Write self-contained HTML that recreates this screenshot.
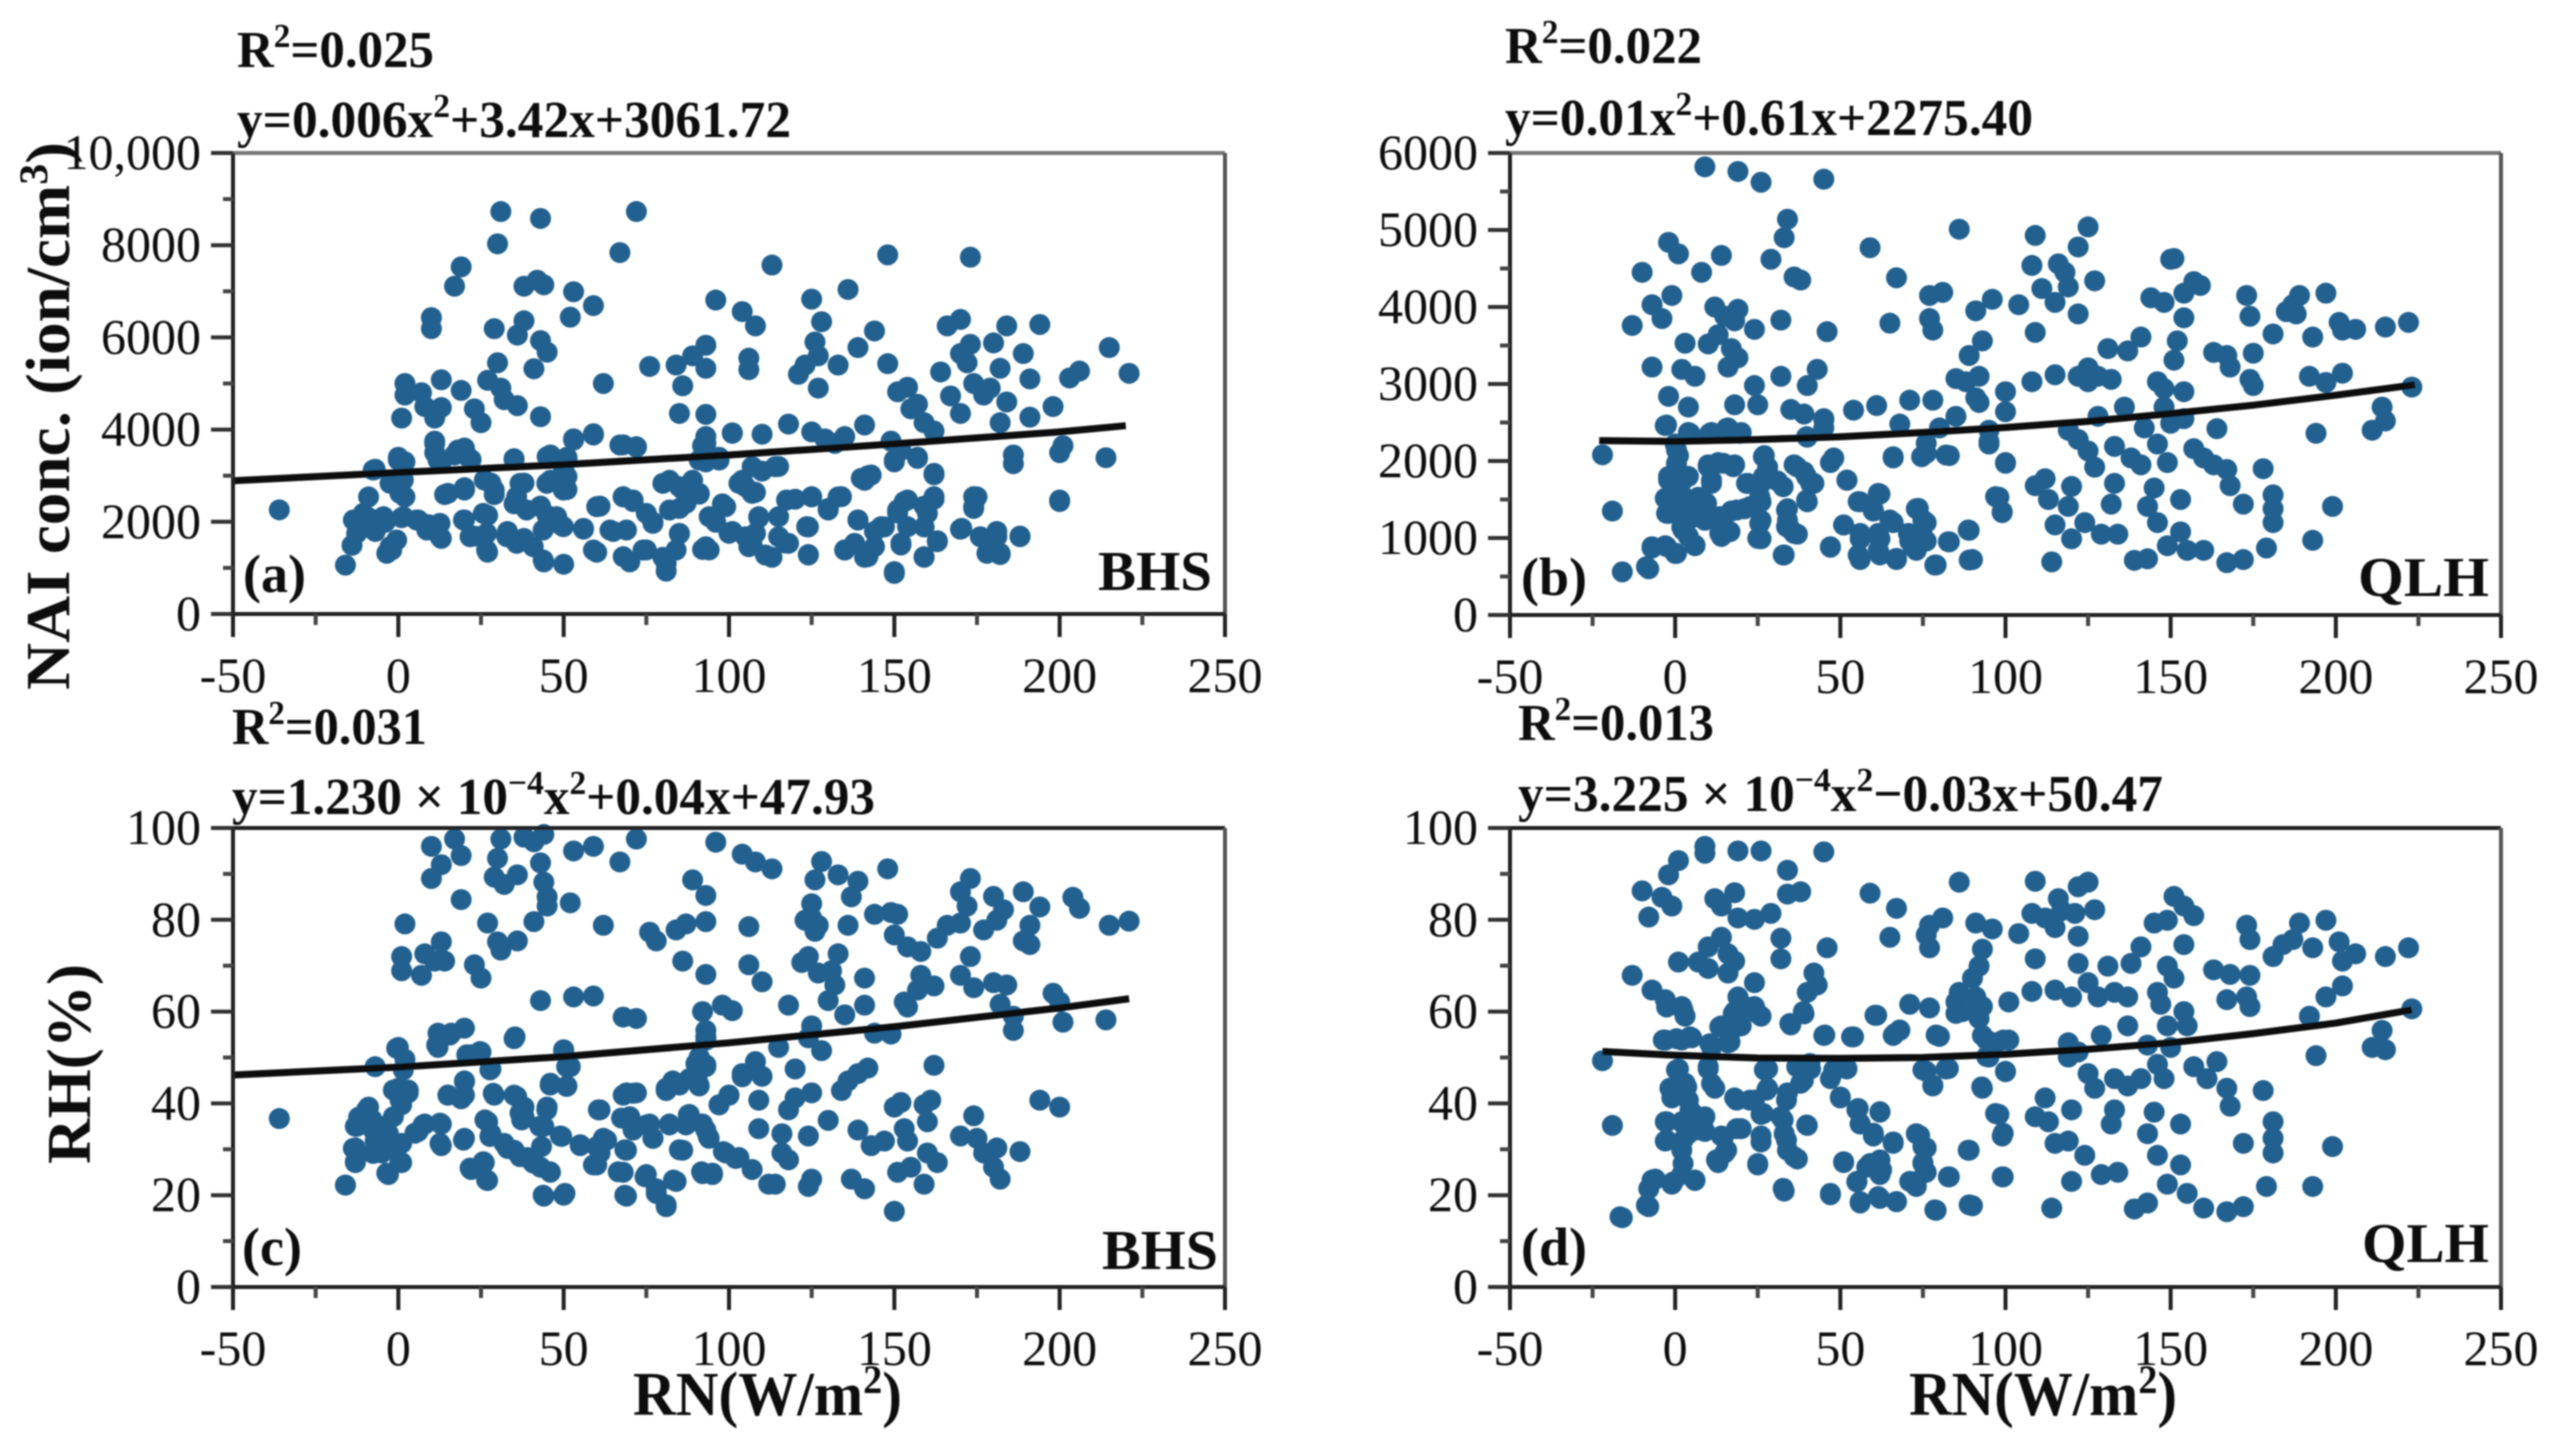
<!DOCTYPE html>
<html lang="en">
<head>
<meta charset="utf-8">
<title>NAI and RH versus net radiation</title>
<style>
html,body{margin:0;padding:0;background:#fff}
svg{display:block}
text{font-family:"Liberation Serif","DejaVu Serif",serif;fill:#111}
.b{font-weight:bold}
</style>
</head>
<body>
<svg id="fig" xmlns="http://www.w3.org/2000/svg" width="2561" height="1451" viewBox="0 0 2561 1451">
<defs><filter id="soft" x="-2%" y="-2%" width="104%" height="104%"><feGaussianBlur stdDeviation="0.8"/></filter></defs>
<rect width="2561" height="1451" fill="#fff"/>
<g id="root" filter="url(#soft)">
<text class="b" x="237" y="67" font-size="52" textLength="197" lengthAdjust="spacingAndGlyphs">R<tspan dy="-20" font-size="34">2</tspan><tspan dy="20">=0.025</tspan></text>
<text class="b" x="237" y="137" font-size="52" textLength="554" lengthAdjust="spacingAndGlyphs">y=0.006x<tspan dy="-20" font-size="34">2</tspan><tspan dy="20">+3.42x+3061.72</tspan></text>
<text class="b" x="1505" y="63" font-size="52" textLength="197" lengthAdjust="spacingAndGlyphs">R<tspan dy="-20" font-size="34">2</tspan><tspan dy="20">=0.022</tspan></text>
<text class="b" x="1505" y="135" font-size="52" textLength="528" lengthAdjust="spacingAndGlyphs">y=0.01x<tspan dy="-20" font-size="34">2</tspan><tspan dy="20">+0.61x+2275.40</tspan></text>
<text class="b" x="232" y="744" font-size="52" textLength="195" lengthAdjust="spacingAndGlyphs">R<tspan dy="-20" font-size="34">2</tspan><tspan dy="20">=0.031</tspan></text>
<text class="b" x="232" y="814" font-size="52" textLength="643" lengthAdjust="spacingAndGlyphs">y=1.230 × 10<tspan dy="-20" font-size="34">−4</tspan><tspan dy="20">x</tspan><tspan dy="-20" font-size="34">2</tspan><tspan dy="20">+0.04x+47.93</tspan></text>
<text class="b" x="1518" y="740" font-size="52" textLength="196" lengthAdjust="spacingAndGlyphs">R<tspan dy="-20" font-size="34">2</tspan><tspan dy="20">=0.013</tspan></text>
<text class="b" x="1518" y="811" font-size="52" textLength="645" lengthAdjust="spacingAndGlyphs">y=3.225 × 10<tspan dy="-20" font-size="34">−4</tspan><tspan dy="20">x</tspan><tspan dy="-20" font-size="34">2</tspan><tspan dy="20">−0.03x+50.47</tspan></text>
<text class="b" transform="translate(69,690) rotate(-90)" font-size="62" textLength="548" lengthAdjust="spacingAndGlyphs">NAI conc. (ion/cm<tspan dy="-22" font-size="40">3</tspan><tspan dy="22">)</tspan></text>
<text class="b" transform="translate(90,1164) rotate(-90)" font-size="62" textLength="200" lengthAdjust="spacingAndGlyphs">RH(%)</text>
<text class="b" x="633" y="1415" font-size="62" textLength="269" lengthAdjust="spacingAndGlyphs">RN(W/m<tspan dy="-22" font-size="40">2</tspan><tspan dy="22">)</tspan></text>
<text class="b" x="1909" y="1415" font-size="62" textLength="268" lengthAdjust="spacingAndGlyphs">RN(W/m<tspan dy="-22" font-size="40">2</tspan><tspan dy="22">)</tspan></text>
<text class="b" x="243" y="592" font-size="54">(a)</text>
<text class="b" x="1098" y="590" font-size="56" textLength="114" lengthAdjust="spacingAndGlyphs">BHS</text>
<text class="b" x="1521" y="595" font-size="54">(b)</text>
<text class="b" x="2358" y="596" font-size="56" textLength="131" lengthAdjust="spacingAndGlyphs">QLH</text>
<text class="b" x="242" y="1265" font-size="54">(c)</text>
<text class="b" x="1102" y="1269" font-size="56" textLength="116" lengthAdjust="spacingAndGlyphs">BHS</text>
<text class="b" x="1521" y="1265" font-size="54">(d)</text>
<text class="b" x="2362" y="1262" font-size="56" textLength="127" lengthAdjust="spacingAndGlyphs">QLH</text>
</g>
</svg>
<script>
// shared x-axis ticks
const xTickValues = [-50, 0, 50, 100, 150, 200, 250];
const xTickLabels = ['-50', '0', '50', '100', '150', '200', '250'];

// y-axis ticks
const naiTicksA = [0, 2000, 4000, 6000, 8000, 10000];
const naiLabelsA = ['0', '2000', '4000', '6000', '8000', '10,000'];
const naiTicksB = [0, 1000, 2000, 3000, 4000, 5000, 6000];
const naiLabelsB = ['0', '1000', '2000', '3000', '4000', '5000', '6000'];
const rhTicks = [0, 20, 40, 60, 80, 100];
const rhLabels = ['0', '20', '40', '60', '80', '100'];

// (a) BHS NAI
const xA = [31,43,72,30,67,19,17,113,148,173,38,42,44,53,59,136,96,125,104,108,52,10,10,29,38,36,43,45,128,144,166,170,184,194,180,173,170,189,215,221,206,203,191,182,172,148,139,133,126,127,123,121,127,93,89,84,93,86,76,106,106,62,41,30,27,31,32,36,43,13,19,2,2,7,8,1,11,13,23,25,85,93,151,154,155,157,167,170,177,179,184,182,191,198,164,174,159,162,141,118,101,110,59,53,125,129,135,132,93,92,68,72,149,201,200,186,186,214,11,11,13,17,20,22,0,2,-7,35,46,51,50,97,93,152,157,150,162,115,110,104,108,142,141,82,89,86,91,1,2,38,46,51,28,29,14,20,68,71,61,35,43,-9,-36,98,85,120,125,133,130,153,162,159,151,175,174,200,-16,-14,-12,-9,-7,-4,-2,1,6,9,13,20,23,27,27,33,38,44,50,45,49,56,60,65,70,75,77,81,80,85,92,94,96,101,107,109,113,117,124,124,135,139,141,144,147,150,152,159,159,163,170,177,179,182,188,181];
const yA = [8730,8580,8730,8030,7840,7530,7110,7570,7790,7740,7110,7240,7140,6990,6690,7040,6810,6830,6560,6250,6440,6430,6190,6190,6360,6050,5930,5680,6340,6140,6250,6390,6250,6280,5880,5850,5650,5650,5780,5220,5270,5120,5100,5330,5450,5430,5780,5400,5900,5600,5400,5200,4900,5830,5600,5400,5330,4950,5370,5550,5300,5000,5320,5450,5070,4900,4650,4520,4280,5080,4850,5000,4750,4800,4500,4250,4250,4480,4450,4150,4350,4330,4820,4920,4450,4550,4730,4350,4750,4900,4600,4150,4270,4500,5250,5000,4150,3970,4100,4120,3930,3900,3910,3800,3950,3800,3850,3700,3850,3650,3670,3620,3750,3650,3500,3450,3260,3390,3750,3500,3300,3450,3600,3350,3400,3300,3140,3370,3450,3400,3140,3400,3300,3550,3400,3300,3020,3200,3100,2900,2640,3000,2900,2900,2900,2700,2600,2900,2540,2840,2900,2700,2840,2590,2590,2740,2540,2440,2340,2390,2340,2540,2260,2390,2290,2490,2540,2540,2290,2440,2490,2340,2190,2540,2290,2440,1060,1490,1990,2090,1790,1990,1390,2090,2040,1940,1640,2040,1690,1340,2140,1790,1640,1130,1080,2140,1940,1840,1340,1790,1130,1390,1990,930,1230,1740,1400,1390,1990,1790,1490,2090,1230,1540,1890,1290,1390,2040,1230,1790,1890,880,1540,1890,1230,1590,1840,1640,1440,1290,1690,1790];
const xADense = [-13.6,-10.6,-12.6,-7.6,-4.5,-2.5,-0.5,1.5,-3.5,0.5,-2.5,1.5,5.5,8.6,12.6,12.6,19.7,21.7,25.7,26.7,26.7,32.8,35.8,40.8,43.8,43.8,42.8,47.9,49.9,35.8,38.8,36.8,44.9,49.9,56,60,59,64,68,71,69,68,75,77,74,81,84,85,82,87,91,85,80,93,94,99,100,105,105,29,26,15,20,11,12,18,21,0,-7.6,35,45,51,51,53,59,67,72,93,91,97,101,107,103,107,114,109,108,106,111,117.4,115,115,118,125,130,134,123.5,124,135,139,138,142,146,144,140,143,151,154,162,160,154,152,163,159,150,150,157,162,174,174,170.4,176,178,182,181,188,200];
const yADense = [2039,2183,1750,1894,2111,1460,1605,2111,1316,2617,2834,2906,2039,1822,1677,1967,2039,1677,2183,1750,1388,1677,1533,1460,1171,1822,2328,2111,1894,2545,2256,2834,2834,2690,1858,2328,1388,1822,2545,2473,1822,1244,2183,1967,1388,1099,1388,1750,2256,2400,2617,2762,2834,1460,2111,2328,1750,1677,2762,2690,2906,2617,2690,3702,3340,3557,3413,3340,3123,3340,3413,3340,2979,3774,3883,3666,3630,3702,3340,3340,3919,3196,2834,2617,3196,2111,1750,1460,1280,2473,2111,1677,1533,2545,2256,2545,1894,1280,1388,2039,1533,1244,1894,1460,2943,3015,2256,2473,2545,2183,1894,1497,1569,1244,918,3340,3376,3051,2545,2328,1858,1677,1316,1316,1677,1677,2473];

// (b) QLH NAI
const xB = [9,19,26,45,34,33,-2,1,14,29,-10,8,36,38,59,67,86,109,125,122,108,116,118,127,111,119,115,122,150,151,157,159,154,144,148,154,173,174,189,187,185,188,197,181,193,201,202,206,215,222,77,81,96,91,104,77,78,65,46,32,24,12,19,15,18,-1,-7,-4,-13,3,10,13,17,19,16,-7,2,6,32,43,40,24,-2,4,18,25,35,39,45,54,61,71,78,68,-3,4,11,16,20,40,45,80,85,89,93,85,92,88,91,92,100,100,108,109,115,122,125,128,125,132,131,137,141,152,151,146,148,154,163,167,168,175,174,175,192,197,202,223,214,215,211,194,164,128,136,148,150,154,95,95,119,122,125,127,133,138,141,142,146,149,157,160,163,167,168,178,100,83,76,66,48,47,-22,-19,-16,-8,-7,-3,0,6,0,1,-2,2,4,-2,2,7,-2,2,5,9,9,2,4,10,11,18,13,27,28,22,26,31,36,39,41,40,52,56,62,17,21,26,34,34,26,26,35,37,14,16,33,47,51,56,56,60,66,62,62,67,73,76,71,76,73,79,83,89,90,98,99,109,112,113,115,114,120,119,120,124,129,133,132,134,139,143,145,143,146,149,153,153,155,160,167,172,172,179,181,181,181,193,199];
const yB = [5820,5760,5620,5660,5140,4900,4840,4690,4670,4620,4450,4450,4390,4350,4770,4380,5010,4930,5040,4780,4540,4560,4450,4340,4240,4260,4060,3910,4620,4630,4330,4280,4180,4120,4060,3860,4150,3880,4150,4030,3940,3910,4180,3650,3610,3800,3700,3710,3740,3800,4150,4190,4100,3950,4030,3850,3700,3790,3680,3830,3710,4000,3970,3880,3820,4150,4030,3850,3760,3530,3520,3640,3460,3340,3220,3220,3190,3100,3100,3190,2980,2980,2840,2700,2730,2730,2670,2610,2550,2660,2720,2790,2790,2480,2460,2370,2370,2430,2370,2310,2430,2430,2580,3370,3560,3070,3100,3030,2820,2760,2900,2640,3030,3670,3120,3100,3210,3100,3030,3060,3460,3430,3610,3560,3310,3030,2940,2900,3410,3370,3220,3400,3060,2980,3100,3020,3140,2960,2700,2520,2400,2360,2420,2580,2700,2700,2490,2550,2400,2220,2400,2280,2130,1920,2190,2040,1950,2430,2220,1980,2160,2040,1950,1890,1680,1900,1980,2070,2100,2040,2040,1980,2080,1350,560,600,870,900,800,900,2220,2070,1800,1800,1800,1530,1560,1530,1320,1350,1260,1470,1230,1140,1020,1950,1710,1950,1980,2070,1920,1710,1710,1740,1950,1860,1710,1470,1750,1470,1570,1350,1380,1470,1380,1230,1230,990,1110,1050,1020,1080,780,880,1170,990,720,1350,1200,990,780,720,1380,1200,960,960,840,650,950,1100,720,1530,1330,1680,1770,1500,1170,690,1670,1410,990,1200,1050,1710,1440,1050,710,730,1650,1410,1200,900,1500,1080,840,840,680,720,1440,870,1560,1380,1200,970,1410];
const xBDense = [0.4,0.4,-2,2.4,-3,1.4,-2.6,3.5,6.5,9.5,7.5,2.4,6,0.4,-2.6,-7,-8.7,10,14.6,17.6,11,21.6,26.7,26.7,25.6,32.7,36.8,39.8,42,39.8,13.5,18.6,22.6,13.5,16.6,25.6,25,33.7,33.7,36,32.7,48,52,55.4,61.5,60,51,47,56,55.4,61.5,61.5,65,67,73.6,75,70.6,75,72,82.7,88.7,89,78.6,66,74.6,82,76,97,99,100,95,39.8,45,10.5,15.6,19.6,4.5,-2.6];
const yBDense = [2143,1970,1753,1753,1515,1537,1320,1363,1493,1450,1277,1104,909,800,887,887,627,1926,1970,1926,1753,1710,2056,1796,1537,1666,1926,1796,1710,1493,1277,1363,1407,1060,1082,1190,995,1363,1147,1060,779,2035,1753,1472,1580,1363,1169,887,1060,779,1060,844,1234,736,1385,1234,1060,1017,887,952,1104,714,649,2056,2056,2078,2230,1537,1342,1970,2251,2316,2532,2359,2424,2359,2359,2467];

// (c) BHS RH
const xC = [10,17,19,13,10,31,30,38,41,44,43,36,29,32,44,45,45,52,53,59,67,72,96,104,108,113,128,126,133,139,137,148,89,93,19,41,62,27,2,93,106,87,84,76,78,125,125,123,127,126,136,144,149,151,150,154,158,163,166,170,173,170,172,180,183,181,177,189,194,191,189,191,204,206,215,221,173,13,30,31,36,1,1,7,8,11,14,23,25,86,93,106,110,122,124,127,131,133,132,141,158,157,162,170,174,180,184,198,200,43,53,59,130,118,98,101,92,141,135,153,154,182,186,186,201,214,68,72,93,93,12,12,16,20,35,0,2,22,25,28,50,52,-7,125,124,115,128,144,149,91,91,93,108,104,110,120,162,142,139,136,134,20,20,15,0,3,1,29,35,38,45,46,51,38,69,72,61,81,83,88,91,100,97,109,120,118,125,130,152,150,161,159,160,174,194,200,-36,-9,-13,-12,-8,-5,-7,-3,-13,-13,-5,-3,1,1,6,8,13,13,20,27,28,32,35,39,43,46,44,49,44,50,-16,22,26,27,55,62,61,60,69,68,69,70,71,76,77,75,78,81,84,82,88,86,92,94,92,95,99,103,107,109,112,114,116,116,118,124,124,125,137,139,141,143,147,150,151,155,153,154,159,160,163,170,175,177,180,182,181,188];
const yC = [96,97.6,94,92,89,97.6,93.4,98,97,98.6,92.4,89.8,89.3,87.7,88.2,85,83,83.7,95,96,92.6,97.6,96.9,94.3,92.6,91.1,92.7,88.7,89.8,88.4,85,91.1,88.7,85.3,84.4,79.6,78.8,79.3,79.1,79.6,78.5,79.1,77.8,77.3,75.4,83.5,80.4,79.9,78.8,77.5,78.8,81.2,81.6,81.2,76.7,74.1,73.1,76,78.8,79.3,89,86.1,83,85.1,82.2,79.9,77.8,86.1,82.8,78.8,75.4,74.6,84.9,82.5,78.8,79.7,72,75.2,75.2,73.4,75.4,72,68.9,67.9,72.6,71,71,70.2,67.3,71,68.1,70.2,66.5,70.7,72,68.4,68.9,72.6,65.8,67.3,67.9,64.7,65.6,67.9,65.2,66.3,65.8,64,62.1,62.4,63.2,63.4,62.4,61.4,61.4,60.2,60,61.4,59.3,62.1,61,61.6,59,55.9,57.7,58.2,58.8,58.5,55.9,53.8,55.3,52.2,55.3,56.4,54.1,52.2,49.6,50.6,51.2,47.5,51.7,48,48,56.9,54.3,52.2,51.5,55.3,55.1,50.1,47.5,48,49.1,46.5,45.9,47.5,48.3,47.7,46.5,44.9,42.8,44.9,41.8,41.8,43.3,42.3,39.7,41.8,41.8,39.2,39.2,44.4,43.8,37.1,42.3,42.3,38.6,42.8,44.9,45.4,43.8,41.8,39.7,40.7,41.2,38.6,42.3,36.3,40.2,39.2,40.7,39.7,36,37.3,40.7,39.2,36.7,39.2,35,37,36.5,34.5,31.8,33.4,30.3,27.1,29.2,24.5,27.1,31.3,33.9,35.5,35.5,30.8,32.4,36,33.4,31.3,29.8,28.2,26.1,25,35,32.9,19.8,20,22.2,25.6,27.1,23.2,30.8,32.4,29.2,26.6,29.8,25,19.8,37.1,34.5,35.5,32.4,24.5,21.4,17.5,23,35.5,37.6,29.8,35.5,32.4,24.7,24.5,29.2,28.2,25.6,34.5,22.4,22.4,33.4,29.2,27.7,32.9,21.9,23.5,23.5,34.2,21.4,30.8,31.8,16.5,25,26.1,34.5,31.8,22.4,29.2,27.1,32.9,32.4,29.2,26.1,23.5,30.3,29.5];
const xCDense = [-16,-13,-13.6,-12.6,-9.6,-7.6,-4.5,-7.6,-3.5,0.5,-0.5,-1.5,0.5,-1.5,3,-0.5,1.5,5,7.5,12.6,12.6,19.7,15,19,20,26.2,27.7,33,36.8,40.8,45.9,21.7,25.7,26.7,28.7,27.7,35.8,36.8,37.3,44.9,42.8,43.3,49.4,43.8,50.4,45.9,50.9,50.9,55,60.5,60,63,59,66.5,68.5,68.5,68,71,67.5,71,75,77,82,87.7,87,93,93.7,85,74.6,78,81,83.2,91.7,95,98.3,102,97,100,81,85,90.7,90,93,93,104,20.7,24.7,11.6,15.6,35.3,50];
const yCDense = [22.2,27.3,30.2,35,38.6,34.2,35,29.1,24.8,27.3,30.6,37.1,40.8,42.9,42.9,52,47.3,33.5,35.3,35.7,31.3,32,41.8,41,44.7,36.4,32.8,30.2,28.4,27,25.1,25.9,27.3,23.3,42.2,47.3,41.5,37.9,36.4,38.6,35,30.6,32.8,20,20.4,44,43.7,48,31,38.6,30.6,32,26.6,25.1,29.9,20,41.8,42.2,36.8,34.2,35.3,32.4,35.3,37.5,35.3,34.2,32.8,29.9,24,20.4,17.9,23.3,25.1,24.8,29.5,28,39.7,41.8,43.3,44,44.4,48.7,48.4,54.5,45.8,50.6,51.3,52.7,54.9,54.5,51.3];

// (d) QLH RH
const xD = [9,9,19,26,45,34,1,-2,-10,-4,-1,-8,12,14,18,34,38,59,67,86,109,122,125,108,112,116,117,121,115,127,122,91,96,104,81,77,76,77,65,46,32,32,14,10,19,24,29,1,7,10,16,18,16,24,-13,-7,-3,2,3,19,24,26,18,20,14,39,35,40,43,42,61,71,77,68,66,80,45,54,-3,2,5,11,16,85,87,91,90,92,93,93,86,92,93,97,101,95,101,108,109,115,120,122,125,128,131,133,137,138,141,137,129,119,119,122,143,146,147,149,151,145,149,151,154,157,154,154,155,149,150,163,168,167,174,173,174,173,174,181,184,189,187,193,197,197,192,202,201,202,206,215,222,223,214,215,211,194,-22,-19,-16,-8,-8,-6,-1,2,6,1,-1,3,-1,4,-3,-3,2,5,4,9,2,9,10,12,18,24,28,28,26,34,38,38,41,49,52,47,40,32,20,14,26,33,34,37,15,13,25,33,47,50,55,56,62,60,66,51,55,58,62,62,62,56,67,73,76,75,76,71,73,79,83,89,90,76,82,78,93,100,98,99,99,109,112,113,115,119,120,124,120,114,125,127,133,133,132,129,134,137,141,146,148,145,143,146,149,153,153,155,160,139,143,157,161,164,167,168,167,172,172,178,181,181,181,179,193,199];
const yD = [94.5,96,95,95,94.8,90.8,92.9,89.8,86.3,84.9,83,80.6,84.6,83,85.9,85.6,86.1,85.8,82.5,88.2,88.4,87.2,88.2,81.4,80.4,84.6,82,81.4,78.3,82.2,76.4,79.3,78,77,80.4,78.8,76.7,73.9,76.2,73.9,76,71.5,76.2,74.1,80.4,80.1,81.4,70.8,70.8,69.4,72.6,71,68.4,66.3,67.9,64.7,62.6,61.1,59,63.2,61.1,59,60,56.9,56.9,59.5,57.1,64.2,65.8,68.4,59.2,61.6,60.8,55.9,54.8,54.6,54.8,54.5,53.8,53.8,54.3,52.2,53.2,62.1,60,63.2,67.3,69.9,73.6,61.1,64.2,58.5,54.8,53.2,53.8,50.1,62.1,64.4,71.5,64.7,63.2,70.5,66.3,63.2,69.9,64.2,63.2,70.5,74.1,56.9,54.8,53.2,50.1,51.2,52.7,64.2,61.6,69.9,67.3,79.3,79.9,85.1,83,80.9,74.6,60,56.9,56.9,52.2,69.1,68.1,62.6,67.9,63.2,61.1,78.8,75.7,72,74.6,79.3,75.7,73.9,79.9,63.2,59,65.6,75.2,71,72.6,72,73.9,60.6,55.9,51.7,52.2,50.4,49.3,35.2,15.1,17.5,21.4,23.5,22.4,24.5,23.2,47.5,43.3,44.4,41.2,40.7,36,31.8,36,38.1,33.4,37.1,29.8,33.9,47.5,43.3,41.2,40.7,47.5,43.3,37.6,42.3,44.4,48,47.5,47.5,47.5,45.4,35.2,37.1,34.5,32.9,32.9,33.4,29.8,27.9,29.2,27.1,26.6,20.9,20.1,41.2,38.6,35.5,38.1,32.9,31.3,27.1,23,26.1,27.7,24.5,19.3,18.3,18.6,33.4,30.3,27.1,25,23,21.9,16.7,24,29.8,17.7,47,47.5,43.8,43.3,47,37.6,32.9,24,37.1,41.2,36,31.3,31.8,38.6,28.7,23,17.2,46.5,43.3,45.4,38.6,35.5,24.5,25,43.8,45.4,48.5,45.4,38.1,33.4,28.7,22.4,35.5,26.6,20.4,17.2,17,18.3,48,45.4,49.1,43.3,39.4,16.4,17.5,31.3,42.8,36,32.4,29.2,21.9,21.9,30.6];
const xDDense = [-3.6,0.4,4.5,2.4,-2.6,0.4,-1.6,3.5,4.5,-2.6,2.4,8.5,-2.6,2.4,7.5,2.4,-0.6,6,-7,-8.7,-16.7,10,11,17.6,21.6,25,13.5,18.6,10.5,16.6,18.6,22.6,27,27.7,26.7,18.6,14.6,15.6,12.5,26,25,33.7,32.7,33.7,36,39.8,38.8,36.8,40.8,48,52,32.7,47,34.7,38.8,45.3,53.4,60.5,66.5,50,55.4,56,60,62,66,51,59,62.5,55,56,61.5,67,74,75,75,73,78.6,82.7,88.7,89,99.3,92.8,75,78,82.7,100,97,99.3,79,68,94.3,99.3,85,91,94.3];
const yDDense = [53.8,54.1,54.5,60.3,61,47.3,43.3,43.6,38.5,36,35.6,36.4,32,32,34.2,26.9,22.9,23.3,23.3,17.8,15.3,48,44.3,59.6,61,59.6,56.7,56.7,53,53.4,40.7,40.7,47.3,42.9,37.8,34.5,32.7,29.8,27.7,31.6,26.9,40.7,36.4,32,28.4,35.3,45,48,48.7,47.3,47.6,21.5,20.4,57.4,60,54.9,54.5,59.2,55.2,41.4,38.9,35.6,33.5,38.2,31.6,27.3,26.9,25.5,22.9,18.6,19.7,18.6,33,30.6,26.9,23,16.8,24,29.8,17.9,24,43.6,47.3,44,47.6,46.9,37.8,33.5,54.9,56,53.8,53.8,59.6,60.3,50.2];

// fitted-curve samples
const curveXA = [-50,0,50,100,150,200,220];
const curveYA = [2890,3070,3240,3450,3690,3950,4085];
const curveXB = [-23,0,25,50,75,100,125,150,175,200,224];
const curveYB = [2265,2255,2280,2315,2370,2435,2515,2615,2725,2855,2990];
const curveXC = [-50,0,50,100,150,200,221];
const curveYC = [46.2,47.9,50.2,53.2,56.7,60.8,62.8];
const curveXD = [-22,0,25,50,75,100,125,150,175,200,223];
const curveYD = [51.3,50.5,49.9,49.8,50,50.7,51.8,53.2,55.2,57.5,60.4];

const SVGNS = 'http://www.w3.org/2000/svg';
const root = document.getElementById('root');
const xDomain = [-50, 250];
const DOT_COLOR = '#22608f';

function make(tag, attrs, parent) {
  const el = document.createElementNS(SVGNS, tag);
  for (const k in attrs) el.setAttribute(k, attrs[k]);
  (parent || root).appendChild(el);
  return el;
}

function drawPanel(id, box, yMax, yTicks, yLabels, yMinorStep, xs, ys, cx, cy, topStroke) {
  const sx = v => box.l + (v - xDomain[0]) / (xDomain[1] - xDomain[0]) * (box.r - box.l);
  const sy = v => box.b - v / yMax * (box.b - box.t);

  const g = make('g', {});
  
  

  const dots = make('g', {fill: DOT_COLOR}, g);
  
  
  xs.forEach((x, i) => {
    const c = make('circle', {cx: sx(x), cy: sy(ys[i]), r: 10.5}, dots);
    
    
  });

  const curve = make('polyline', {
    points: cx.map((x, i) => sx(x) + ',' + sy(cy[i])).join(' '),
    fill: 'none', stroke: '#0a0a0a', 'stroke-width': 7, 'stroke-linejoin': 'round', 'stroke-linecap': 'butt'
  }, g);
  
  

  const frame = [
    ['spine-top', box.l, box.t, box.r, box.t, topStroke, 4],
    ['spine-right', box.r, box.t, box.r, box.b, '#555', 4],
    ['spine-left', box.l, box.t, box.l, box.b, '#222', 4],
    ['spine-bottom', box.l, box.b, box.r, box.b, '#222', 4]
  ];
  frame.forEach(f => {
    const ln = make('line', {x1: f[1], y1: f[2], x2: f[3], y2: f[4], stroke: f[5], 'stroke-width': f[6]}, g);
    
    
  });

  xTickValues.forEach((v, i) => {
    const x = sx(v);
    const t = make('line', {x1: x, y1: box.b, x2: x, y2: box.b + 23, stroke: '#222', 'stroke-width': 4}, g);
    
    
    const lb = make('text', {x: x, y: box.b + 78, 'font-size': 50, 'text-anchor': 'middle'}, g);
    
    
    lb.textContent = xTickLabels[i];
    if (i < xTickValues.length - 1) {
      const mx = sx(v + 25);
      const m = make('line', {x1: mx, y1: box.b, x2: mx, y2: box.b + 11, stroke: '#444', 'stroke-width': 4}, g);
      
      
    }
  });

  yTicks.forEach((v, i) => {
    const y = sy(v);
    const t = make('line', {x1: box.l - 22, y1: y, x2: box.l, y2: y, stroke: '#333', 'stroke-width': 4}, g);
    
    
    const lb = make('text', {x: box.l - 32, y: y + 16, 'font-size': 50, 'text-anchor': 'end'}, g);
    
    
    lb.textContent = yLabels[i];
    if (i < yTicks.length - 1) {
      const my = sy(v + yMinorStep);
      const m = make('line', {x1: box.l - 10, y1: my, x2: box.l, y2: my, stroke: '#444', 'stroke-width': 4}, g);
      
      
    }
  });
}

drawPanel('a', {l: 233, r: 1225, t: 153, b: 614}, 10000, naiTicksA, naiLabelsA, 1000, xA.concat(xADense), yA.concat(yADense), curveXA, curveYA, '#777');
drawPanel('b', {l: 1510, r: 2501, t: 153, b: 615}, 6000, naiTicksB, naiLabelsB, 500, xB.concat(xBDense), yB.concat(yBDense), curveXB, curveYB, '#777');
drawPanel('c', {l: 233, r: 1225, t: 828, b: 1287}, 100, rhTicks, rhLabels, 10, xC.concat(xCDense), yC.concat(yCDense), curveXC, curveYC, '#222');
drawPanel('d', {l: 1510, r: 2501, t: 828, b: 1287}, 100, rhTicks, rhLabels, 10, xD.concat(xDDense), yD.concat(yDDense), curveXD, curveYD, '#222');
</script>
</body>
</html>
